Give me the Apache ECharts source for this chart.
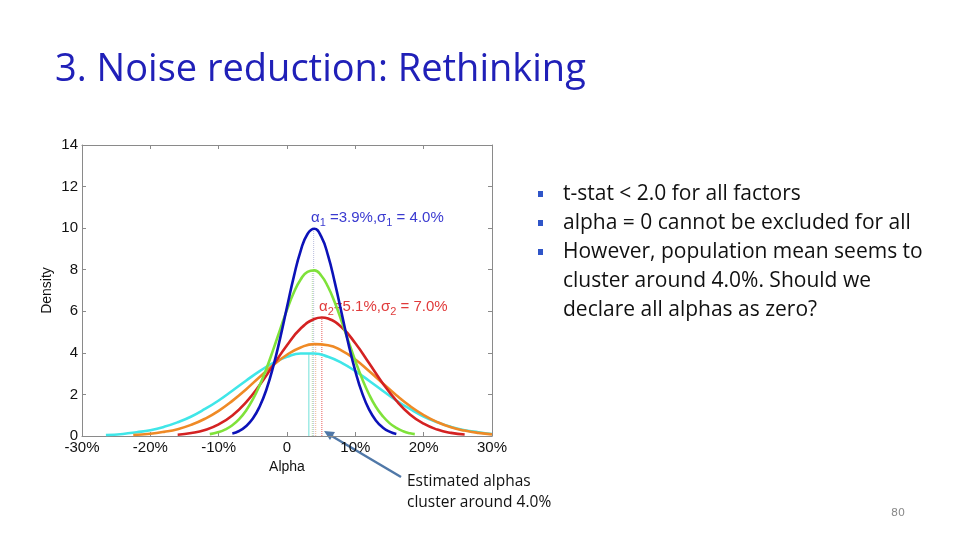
<!DOCTYPE html>
<html>
<head>
<meta charset="utf-8">
<style>
  html, body { margin: 0; padding: 0; background: #fff; }
  #chart { width: 960px; height: 540px; }
</style>
<script src="https://cdn.jsdelivr.net/npm/echarts@6/dist/echarts.min.js"></script>
</head>
<body>
<div id="chart"></div>
<script>
// Density curves: [alpha %, density]
const blueCurve = [[-8,0.12],[-7,0.24],[-6,0.47],[-5,0.84],[-4,1.42],[-3,2.25],[-2,3.36],[-1,4.71],[0,6.2],[1,7.67],[2,8.91],[3,9.72],[4,9.97],[5,9.6],[6,8.69],[7,7.38],[8,5.9],[9,4.42],[10,3.12],[11,2.06],[12,1.28],[13,0.75],[14,0.41],[15,0.21],[16,0.1]];
const greenCurve = [[-11.3,0.09],[-10,0.19],[-9,0.32],[-8,0.52],[-7,0.81],[-6,1.22],[-5,1.76],[-4,2.44],[-3,3.25],[-2,4.17],[-1,5.13],[0,6.07],[1,6.9],[2,7.53],[3,7.9],[4,7.97],[5,7.72],[6,7.18],[7,6.42],[8,5.51],[9,4.55],[10,3.61],[11,2.75],[12,2.01],[13,1.41],[14,0.96],[15,0.62],[16,0.39],[17,0.23],[18,0.13],[18.7,0.09]];
const redCurve = [[-16,0.06],[-14,0.14],[-12,0.29],[-10,0.56],[-8,0.99],[-6,1.62],[-4,2.45],[-2,3.41],[0,4.37],[2,5.17],[4,5.63],[5.1,5.7],[6,5.65],[8,5.23],[10,4.46],[12,3.51],[14,2.54],[16,1.7],[18,1.04],[20,0.59],[22,0.31],[24,0.15],[26,0.07]];
const orangeCurve = [[-22.5,0.05],[-20,0.11],[-18,0.2],[-16,0.33],[-14,0.54],[-12,0.83],[-10,1.21],[-8,1.69],[-6,2.24],[-4,2.84],[-2,3.41],[0,3.91],[2,4.26],[4,4.42],[6,4.37],[8,4.11],[10,3.68],[12,3.13],[14,2.54],[16,1.96],[18,1.44],[20,1.01],[22,0.67],[24,0.42],[26,0.26],[28,0.15],[30,0.08]];
const cyanCurve = [[-26.5,0.05],[-24,0.1],[-22,0.18],[-20,0.28],[-18,0.44],[-16,0.66],[-14,0.94],[-12,1.3],[-10,1.71],[-8,2.18],[-6,2.66],[-4,3.12],[-2,3.52],[0,3.81],[2,3.97],[4,3.97],[6,3.81],[8,3.52],[10,3.12],[12,2.66],[14,2.18],[16,1.71],[18,1.3],[20,0.94],[22,0.66],[24,0.44],[26,0.28],[28,0.18],[30,0.1]];

// Estimated means and peak heights (vertical guide lines): cyan, green, blue, orange, red
const meanAlphas = [3.2, 3.7, 3.9, 4.2, 5.1];
const meanPeaks = [3.98, 7.98, 9.97, 4.4, 5.7];

const bullets = [
  ['t-stat < 2.0 for all factors'],
  ['alpha = 0 cannot be excluded for all'],
  ['However, population mean seems to', 'cluster around 4.0%. Should we', 'declare all alphas as zero?']
];

const chart = echarts.init(document.getElementById('chart'));

function curveSeries(data, color) {
  return {
    type: 'line',
    data: data,
    smooth: true,
    showSymbol: false,
    z: 3,
    lineStyle: { color: color, width: 2.6 }
  };
}

// thin vertical line from the axis up to the peak at the mean
function guideSeries(i, color, dash) {
  return {
    type: 'line',
    data: [[meanAlphas[i], 0], [meanAlphas[i], meanPeaks[i]]],
    showSymbol: false,
    silent: true,
    z: 2,
    lineStyle: { color: color, width: 1, type: dash }
  };
}

const axisFont = { fontFamily: 'Liberation Sans, Arial, sans-serif', fontSize: 15, color: '#111' };
const frameColor = '#8a8a8a';

// bullet text blocks
const bulletGraphics = [];
let by = 194;
bullets.forEach(function (lines) {
  bulletGraphics.push({
    type: 'rect', shape: { x: 538, y: by - 3, width: 5, height: 6 },
    style: { fill: '#2f55c8' }
  });
  lines.forEach(function (t) {
    bulletGraphics.push({
      type: 'text', x: 563, y: by,
      style: { text: t, font: '21px "Open Sans", sans-serif', fill: '#111', textVerticalAlign: 'middle' }
    });
    by += 29;
  });
});

const option = {
  animation: false,
  backgroundColor: '#fff',
  grid: { left: 82, right: 468, top: 145, bottom: 104 },
  xAxis: [{
    type: 'value', min: -30, max: 30, interval: 10,
    name: 'Alpha', nameLocation: 'middle', nameGap: 21,
    nameTextStyle: { fontFamily: 'Liberation Sans, Arial, sans-serif', fontSize: 14, color: '#111' },
    axisLine: { onZero: false, lineStyle: { color: frameColor } },
    axisTick: { inside: true, length: 4, lineStyle: { color: frameColor } },
    axisLabel: Object.assign({ margin: 4, formatter: function (v) { return v === 0 ? '0' : v + '%'; } }, axisFont),
    splitLine: { show: false }
  }, {
    type: 'value', min: -30, max: 30, interval: 10, position: 'top',
    axisLine: { onZero: false, lineStyle: { color: frameColor } },
    axisTick: { inside: true, length: 4, lineStyle: { color: frameColor } },
    axisLabel: { show: false }, splitLine: { show: false }
  }],
  yAxis: [{
    type: 'value', min: 0, max: 14, interval: 2,
    name: 'Density', nameLocation: 'middle', nameGap: 28, nameRotate: 90,
    nameTextStyle: { fontFamily: 'Liberation Sans, Arial, sans-serif', fontSize: 14, color: '#111' },
    axisLine: { show: true, onZero: false, lineStyle: { color: frameColor } },
    axisTick: { show: true, inside: true, length: 4, lineStyle: { color: frameColor } },
    axisLabel: Object.assign({ margin: 4 }, axisFont),
    splitLine: { show: false }
  }, {
    type: 'value', min: 0, max: 14, interval: 2, position: 'right',
    axisLine: { show: true, onZero: false, lineStyle: { color: frameColor } },
    axisTick: { show: true, inside: true, length: 4, lineStyle: { color: frameColor } },
    axisLabel: { show: false }, splitLine: { show: false }
  }],
  series: [
    guideSeries(0, '#70e0d8', 'solid'),
    guideSeries(1, '#b4e0a0', 'dotted'),
    guideSeries(2, '#b8bcdc', 'dotted'),
    guideSeries(3, '#f0b890', 'dotted'),
    guideSeries(4, '#e85a5a', 'dotted'),
    curveSeries(cyanCurve, '#40e6e8'),
    curveSeries(orangeCurve, '#ef8a26'),
    curveSeries(redCurve, '#d42222'),
    curveSeries(greenCurve, '#7fe23a'),
    curveSeries(blueCurve, '#0c12b8')
  ],
  graphic: [
    {
      type: 'text', left: 55, top: 51,
      style: { text: '3. Noise reduction: Rethinking', font: '38px "Open Sans", sans-serif', fill: '#2020b8' }
    },
    {
      type: 'text', x: 311, y: 208,
      style: {
        text: '{a|α}{s|1}{a| =3.9%,σ}{s|1}{a| = 4.0%}',
        rich: {
          a: { fontFamily: 'Liberation Sans, Arial, sans-serif', fontSize: 15, fill: '#3a3ad0', lineHeight: 20 },
          s: { fontFamily: 'Liberation Sans, Arial, sans-serif', fontSize: 11, fill: '#3a3ad0', padding: [10, 0, 0, 0], lineHeight: 20 }
        }
      }
    },
    {
      type: 'text', x: 319, y: 297,
      style: {
        text: '{a|α}{s|2}{a|=5.1%,σ}{s|2}{a| = 7.0%}',
        rich: {
          a: { fontFamily: 'Liberation Sans, Arial, sans-serif', fontSize: 15, fill: '#e03a3a', lineHeight: 20 },
          s: { fontFamily: 'Liberation Sans, Arial, sans-serif', fontSize: 11, fill: '#e03a3a', padding: [10, 0, 0, 0], lineHeight: 20 }
        }
      }
    },
    {
      type: 'line', shape: { x1: 401, y1: 477, x2: 330, y2: 435 },
      style: { stroke: '#5078a8', lineWidth: 2.5 }
    },
    {
      type: 'polygon', shape: { points: [[324, 431], [335, 432], [330, 440]] },
      style: { fill: '#5078a8' }
    },
    {
      type: 'text', x: 407, y: 471,
      style: { text: 'Estimated alphas\ncluster around 4.0%', font: '15.5px "Open Sans", sans-serif', fill: '#111', lineHeight: 21 }
    },
    {
      type: 'text', x: 891, y: 508,
      style: { text: '80', font: '11px "DejaVu Sans", sans-serif', fill: '#8a8a8a' }
    }
  ].concat(bulletGraphics)
};

chart.setOption(option);
</script>
</body>
</html>
